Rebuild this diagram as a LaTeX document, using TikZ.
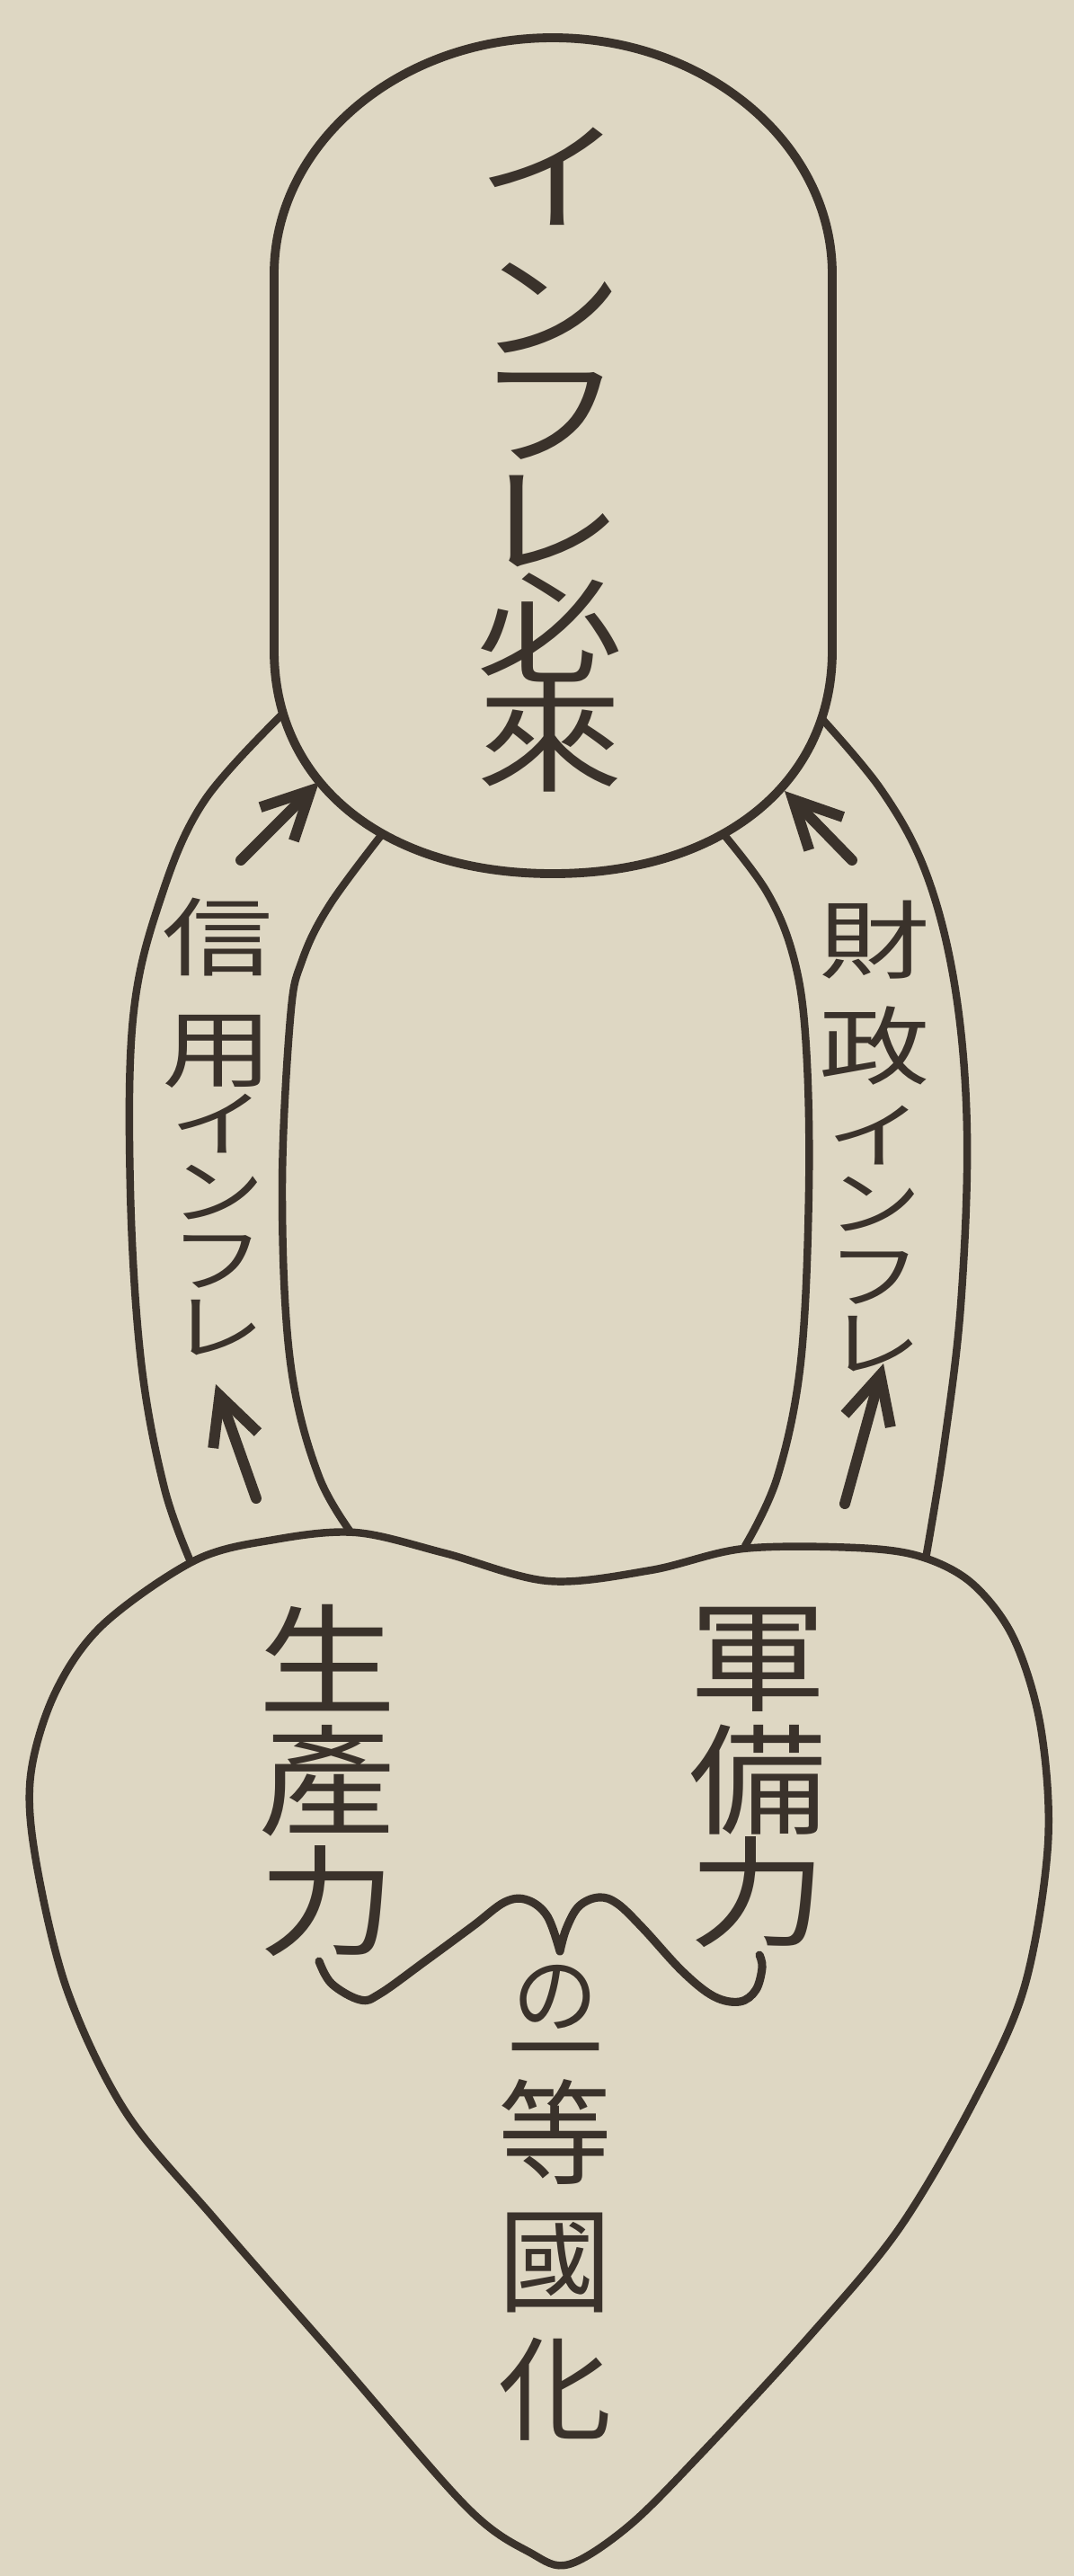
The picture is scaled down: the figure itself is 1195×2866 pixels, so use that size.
\documentclass[tikz,border=0pt]{standalone}
\usepackage{fontspec}
\newfontfamily\jpS{Noto Sans CJK JP}[FakeStretch=1.22]
\newfontfamily\jpB{Noto Sans CJK JP}[FakeStretch=1.3]
\newfontfamily\jpH{Noto Sans CJK JP}[FakeStretch=1.15]
\newfontfamily\jp{Noto Sans CJK JP}
\usetikzlibrary{arrows.meta}
\definecolor{paper}{RGB}{222,215,195}
\definecolor{ink}{RGB}{58,50,43}
\newcommand\vfont[3]{#1\fontsize{#2}{#3}\selectfont\lineskiplimit=-200pt\relax}
\newcommand\kanasz{\fontsize{23pt}{21.5pt}\selectfont}
\tikzset{
  outline/.style={draw=ink, line width=2.4pt, line join=round, line cap=round},
  thickoutline/.style={outline, line width=2.8pt},
  flow/.style={draw=ink, line width=3.4pt, line cap=round, line join=round,
    -{Straight Barb[length=15pt,width=15pt]}},
  vlabel/.style={text=ink, inner sep=0pt, align=center, anchor=north},
}
\begin{document}
\begin{tikzpicture}[x=0.01cm,y=-0.01cm]
\fill[paper] (0,0) rectangle (1195,2866);
\useasboundingbox (0,0) rectangle (1195,2866);

% bands (drawn first, their ends are covered by the filled shapes)
\draw[outline] plot[smooth, tension=0.6] coordinates {(327,782) (228,890) (177,1005) (148,1133) (145,1324) (157,1515) (183,1656) (214,1742)};
\draw[outline] plot[smooth, tension=0.6] coordinates {(433,918) (368,1005) (336,1069) (323,1133) (314,1324) (323,1515) (355,1643) (400,1718)};
\draw[outline] plot[smooth, tension=0.6] coordinates {(795,916) (853,992) (884,1069) (897,1165) (900,1324) (891,1515) (865,1643) (829,1720)};
\draw[outline] plot[smooth, tension=0.6] coordinates {(903,787) (980,878) (1031,973) (1063,1101) (1076,1260) (1069,1452) (1050,1611) (1029,1740)};

% top capsule
\draw[thickoutline, fill=paper] (305,724) -- (305,305)
  .. controls (305,160) and (444,42) .. (615,42)
  .. controls (786,42) and (926,160) .. (926,305)
  -- (926,724)
  .. controls (926,873) and (801,972) .. (615,972)
  .. controls (429,972) and (305,873) .. (305,724) -- cycle;

% heart
\draw[outline, fill=paper] plot[smooth cycle, tension=0.55] coordinates {
  (217,1736) (305,1713) (396,1705) (495,1728) (610,1759) (724,1747) (827,1723)
  (953,1722) (1025,1732) (1082,1762) (1128,1823) (1158,1922) (1166,2052)
  (1140,2210) (1085,2335) (1000,2480) (900,2600) (780,2730) (700,2810)
  (633,2853) (590,2840) (520,2790) (380,2630) (240,2470) (140,2350)
  (75,2215) (40,2070) (34,1976) (61,1884) (114,1808)};

% wavy brace
\draw[outline, line width=2.6pt]
  plot[smooth, tension=0.6] coordinates {(355,2182) (369,2207) (401,2225) (423,2218) (473,2182) (526,2143) (562,2116) (587,2114) (609,2132) (623,2171)}
  plot[smooth, tension=0.6] coordinates {(623,2171) (630,2146) (644,2121) (666,2111) (687,2118) (716,2146) (759,2193) (794,2221) (823,2227) (841,2214) (848,2189) (845,2175)};

% arrows
\coordinate (a1s) at (268,957);  \coordinate (a1e) at (355,870);
\coordinate (a2s) at (948,957);  \coordinate (a2e) at (873,880);
\coordinate (a3s) at (285,1667); \coordinate (a3e) at (240,1540);
\coordinate (a4s) at (940,1673); \coordinate (a4e) at (983,1517);
\draw[flow] (a1s) -- (a1e);
\draw[flow] (a2s) -- (a2e);
\draw[flow] (a3s) -- (a3e);
\draw[flow] (a4s) -- (a4e);

% labels
\node[vlabel, font={\vfont\jpS{38pt}{32pt}}] (infl) at (612,141)
  {イ\\[9pt]ン\\[1.6pt]フ\\[2pt]レ\\[2.5pt]必\\[2.5pt]來};
\node[vlabel, font={\vfont\jpB{27pt}{21.5pt}}] (credit) at (242,998)
  {信\\[13.8pt]用\\[0.6pt]{\kanasz イ}\\{\kanasz ン}\\{\kanasz フ}\\{\kanasz レ}};
\node[vlabel, font={\vfont\jpB{27pt}{21.5pt}}] (fiscal) at (973,1001)
  {財\\[12.1pt]政\\[5.2pt]{\kanasz イ}\\{\kanasz ン}\\[1.3pt]{\kanasz フ}\\{\kanasz レ}};
\node[vlabel, font={\vfont\jpH{38pt}{38pt}}] (prod) at (364,1785)
  {生\\產\\力};
\node[vlabel, font={\vfont\jpH{38pt}{35.6pt}}] (arms) at (843,1787)
  {軍\\[3.4pt]備\\力};
\node[vlabel, font={\vfont\jp{36pt}{40.5pt}}] (first) at (618,2186)
  {{\fontsize{27pt}{40.5pt}\selectfont の}\\[-22.3pt]{\fontsize{30pt}{40.5pt}\selectfont 一}\\[-11.7pt]等\\國\\化};
\end{tikzpicture}
\end{document}
